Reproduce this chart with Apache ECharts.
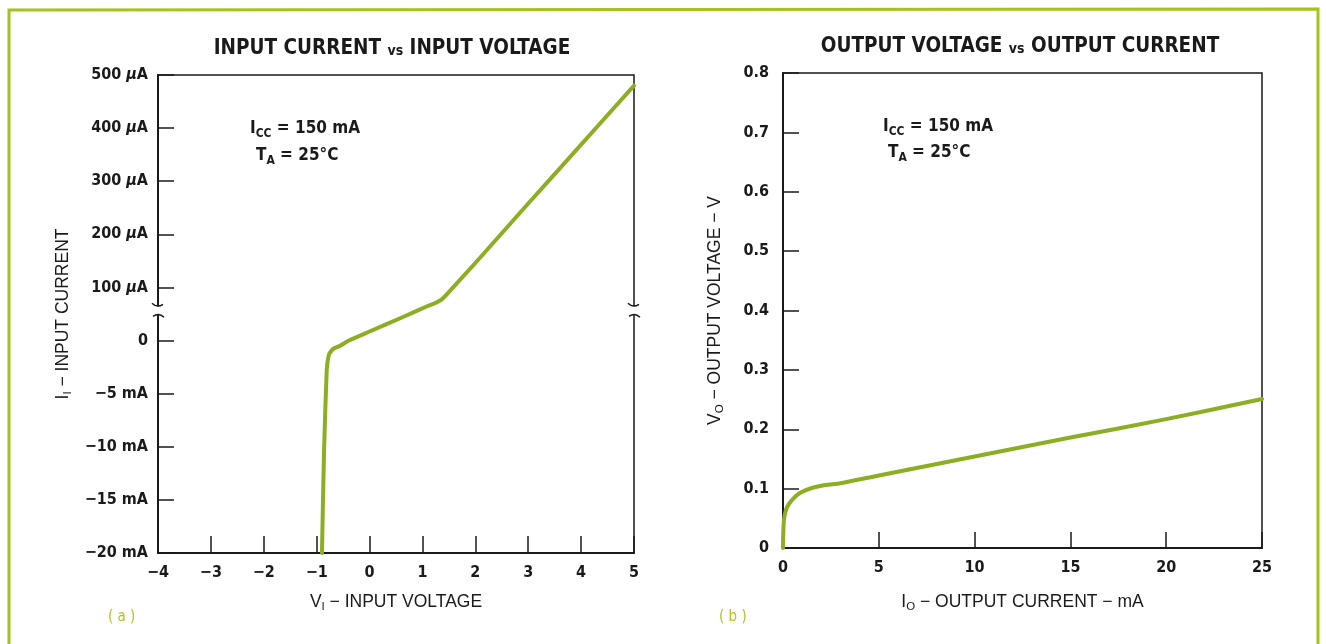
<!DOCTYPE html>
<html>
<head>
<meta charset="utf-8">
<script src="https://cdn.jsdelivr.net/npm/echarts@6/dist/echarts.min.js"></script>
<style>
  html, body { margin: 0; padding: 0; background: #fff; }
  #chart { width: 1326px; height: 644px; }
</style>
</head>
<body>
<div id="chart"></div>
<script>
// ---- (a) input current vs input voltage ----
const inVolts = [-0.90, -0.86, -0.81, -0.77, -0.72, -0.66, -0.56, -0.39, 0.0, 0.6, 1.1, 1.27, 1.36, 1.46, 2.0, 3.0, 4.0, 5.0];
// input current in mA (negative side in mA, positive side down to tens of µA)
const inCurrent = [-20, -10.3, -2.8, -1.35, -0.95, -0.7, -0.5, 0, 0.017, 0.043, 0.065, 0.072, 0.077, 0.087, 0.146, 0.258, 0.369, 0.480];
const inXTicks = ['−4', '−3', '−2', '−1', '0', '1', '2', '3', '4', '5'];
const inYTicks = ['−20 mA', '−15 mA', '−10 mA', '−5 mA', '0', '100 {mu|μ}A', '200 {mu|μ}A', '300 {mu|μ}A', '400 {mu|μ}A', '500 {mu|μ}A'];

// ---- (b) output voltage vs output current ----
const outCurrent = [0, 0.02, 0.06, 0.2, 0.5, 0.9, 1.5, 2.2, 3, 5, 10, 15, 20, 25];
const outVolts = [0, 0.03, 0.05, 0.068, 0.082, 0.093, 0.101, 0.106, 0.109, 0.122, 0.154, 0.186, 0.217, 0.251];
const outYTicks = ['0', '0.1', '0.2', '0.3', '0.4', '0.5', '0.6', '0.7', '0.8'];

// The current axis of (a) is split: 5 mA per division below zero,
// 100 µA per division above zero.
function currentToAxis(mA) {
  return mA < 0 ? 4 + mA / 5 : 4 + mA / 0.1;
}

const NARROW = "'Liberation Sans Narrow', 'DejaVu Sans Condensed', 'Liberation Sans', sans-serif";
const WIDE = "'Liberation Sans', 'DejaVu Sans', sans-serif";
const INK = '#1a1a1a';
const CURVE = '#8cae22';
const TAG = '#b9c023';

const seriesA = inVolts.map((v, i) => [v, currentToAxis(inCurrent[i])]);
const seriesB = outCurrent.map((c, i) => [c, outVolts[i]]);

const tickRich = {
  mu: { fontFamily: NARROW, fontSize: 16, fontWeight: 'bold', color: INK, fontStyle: 'italic' }
};
const nameRich = {
  base: { fontFamily: WIDE, fontSize: 17.5, color: INK },
  sub: { fontFamily: WIDE, fontSize: 11.5, color: INK, padding: [10, 0, 0, 0] }
};

const axisLine = { show: true, onZero: false, lineStyle: { color: INK, width: 2 } };
const tick = (len) => ({ show: true, inside: true, length: len, lineStyle: { color: INK, width: 1.5 } });
const label = (extra) => Object.assign({
  color: INK, fontFamily: NARROW, fontSize: 16, fontWeight: 'bold', rich: tickRich
}, extra);
const axisName = (text, gap, rotate) => ({
  name: text, nameLocation: 'middle', nameGap: gap, nameRotate: rotate || 0,
  nameMoveOverlap: false, nameTextStyle: { rich: nameRich }
});

const chart = echarts.init(document.getElementById('chart'));

const option = {
  animation: false,
  backgroundColor: '#fff',
  grid: [
    { left: 158, top: 75, width: 476, height: 478, show: true, borderColor: INK, borderWidth: 1.5 },
    { left: 783, top: 73, width: 479, height: 475, show: true, borderColor: INK, borderWidth: 1.5 }
  ],
  xAxis: [
    Object.assign({
      gridIndex: 0, type: 'value', min: -4, max: 5, interval: 1,
      axisLine, axisTick: tick(17), splitLine: { show: false },
      axisLabel: label({ margin: 12, formatter: (v) => inXTicks[Math.round(v + 4)] })
    }, axisName('{base|V}{sub|I}{base| − INPUT VOLTAGE}', 38)),
    Object.assign({
      gridIndex: 1, type: 'value', min: 0, max: 25, interval: 5,
      axisLine, axisTick: tick(16), splitLine: { show: false },
      axisLabel: label({ margin: 12 })
    }, axisName('{base|I}{sub|O}{base| − OUTPUT CURRENT − mA}', 43))
  ],
  yAxis: [
    Object.assign({
      gridIndex: 0, type: 'value', min: 0, max: 9, interval: 1,
      axisLine, axisTick: tick(16), splitLine: { show: false },
      axisLabel: label({ margin: 10, formatter: (v) => inYTicks[Math.round(v)] })
    }, axisName('{base|I}{sub|I}{base| − INPUT CURRENT}', 84, 90)),
    Object.assign({
      gridIndex: 1, type: 'value', min: 0, max: 0.8, interval: 0.1,
      axisLine, axisTick: tick(16), splitLine: { show: false },
      axisLabel: label({ margin: 14, formatter: (v) => outYTicks[Math.round(v * 10)] })
    }, axisName('{base|V}{sub|O}{base| − OUTPUT VOLTAGE − V}', 57, 90))
  ],
  series: [
    {
      type: 'line', xAxisIndex: 0, yAxisIndex: 0, data: seriesA,
      showSymbol: false, smooth: 0.15, clip: true,
      lineStyle: { color: CURVE, width: 4, cap: 'round', join: 'round' }
    },
    {
      type: 'line', xAxisIndex: 1, yAxisIndex: 1, data: seriesB,
      showSymbol: false, smooth: 0.25, clip: false,
      lineStyle: { color: CURVE, width: 4, cap: 'round', join: 'round' }
    }
  ]
};

chart.setOption(option);

// Titles, condition notes, panel tags, frame and axis break marks
function text(x, y, t, size, weight, color, align) {
  return {
    type: 'text', x, y, z: 10,
    style: {
      text: t, fill: color || INK, textAlign: align || 'left', textVerticalAlign: 'middle',
      font: (weight || 'normal') + ' ' + size + 'px ' + NARROW,
      rich: {
        vs: { fontFamily: NARROW, fontSize: 14, fontWeight: 'bold', fill: INK, padding: [4, 0, 0, 0] },
        t: { fontFamily: NARROW, fontSize: size, fontWeight: weight || 'normal', fill: INK },
        s: { fontFamily: NARROW, fontSize: 12, fontWeight: weight || 'normal', fill: INK, padding: [10, 0, 0, 0] }
      }
    }
  };
}

function breakMark(x, y) {
  const s = { stroke: INK, lineWidth: 1.5, fill: 'none' };
  return [
    { type: 'rect', z: 11, shape: { x: x - 3, y: y - 4, width: 6, height: 8 }, style: { fill: '#fff' } },
    { type: 'bezierCurve', z: 12, shape: { x1: x - 6, y1: y - 7, cpx1: x - 1, cpy1: y - 2, x2: x + 5, y2: y - 6 }, style: s },
    { type: 'bezierCurve', z: 12, shape: { x1: x - 5, y1: y + 6, cpx1: x + 1, cpy1: y + 2, x2: x + 6, y2: y + 7 }, style: s }
  ];
}

const breakY = chart.convertToPixel({ gridIndex: 0 }, [-4, 4.57])[1];
const leftX = chart.convertToPixel({ gridIndex: 0 }, [-4, 0])[0];
const rightX = chart.convertToPixel({ gridIndex: 0 }, [5, 0])[0];

const graphics = [
  {
    type: 'polyline', z: 1,
    shape: { points: [[9, 644], [9, 10], [1318, 9], [1318, 644]] },
    style: { stroke: '#a6c21e', lineWidth: 3, fill: 'none' }
  },
  text(392, 49, '{t|INPUT CURRENT }{vs|vs}{t| INPUT VOLTAGE}', 20.5, 'bold', INK, 'center'),
  text(1020, 47, '{t|OUTPUT VOLTAGE }{vs|vs}{t| OUTPUT CURRENT}', 20.5, 'bold', INK, 'center'),
  text(250, 129, '{t|I}{s|CC}{t| = 150 mA}', 17, 'bold'),
  text(256, 156, '{t|T}{s|A}{t| = 25°C}', 17, 'bold'),
  text(883, 127, '{t|I}{s|CC}{t| = 150 mA}', 17, 'bold'),
  text(888, 153, '{t|T}{s|A}{t| = 25°C}', 17, 'bold'),
  text(108, 617, '( a )', 15, 'normal', TAG),
  text(719, 617, '( b )', 15, 'normal', TAG)
].concat(breakMark(leftX, breakY), breakMark(rightX, breakY));

chart.setOption({ graphic: graphics });
</script>
</body>
</html>
